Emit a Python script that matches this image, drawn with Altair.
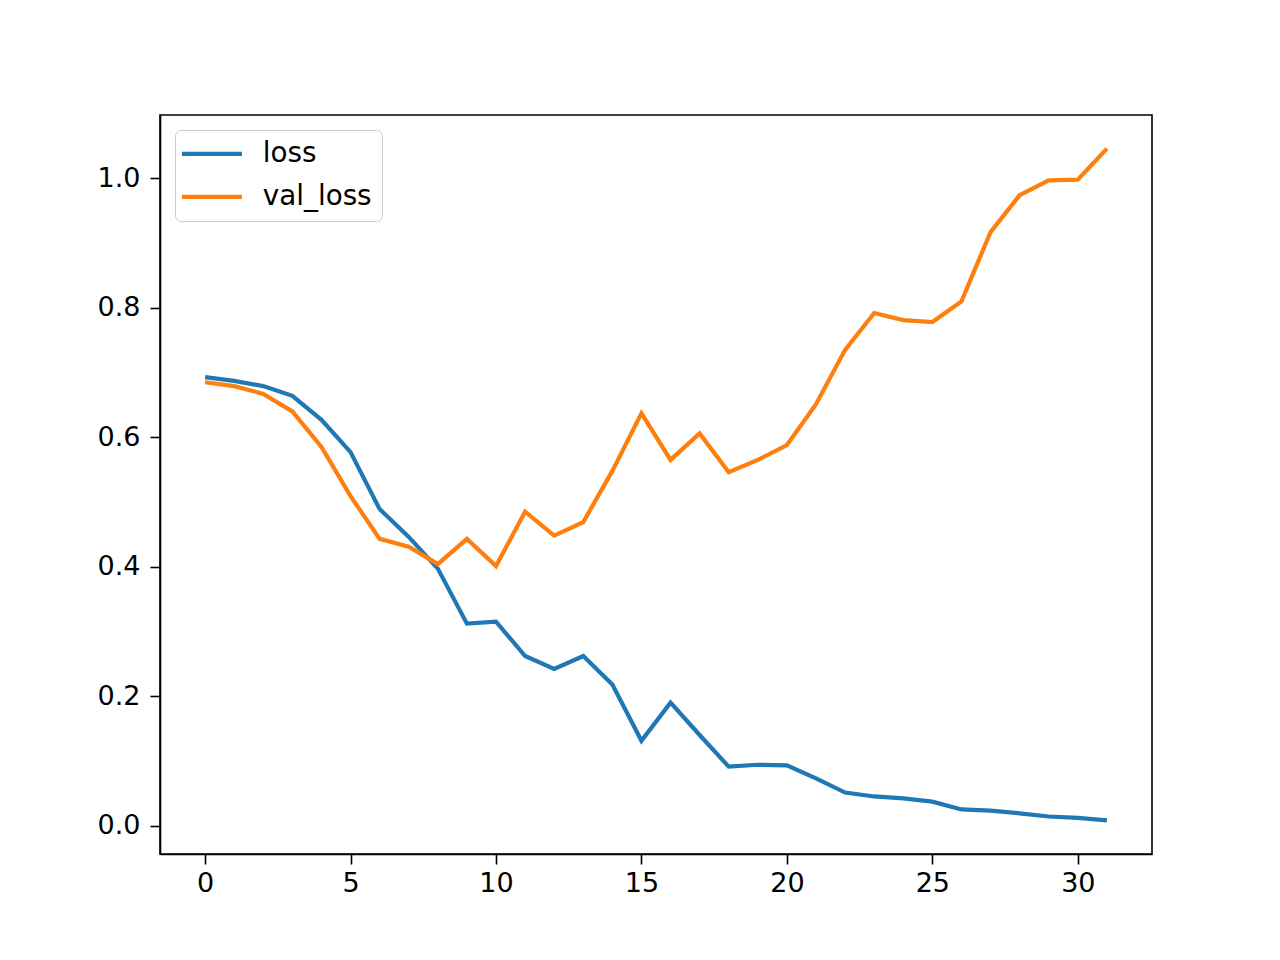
import altair as alt
import pandas as pd

epochs = list(range(32))
loss = [0.693, 0.687, 0.679, 0.664, 0.627, 0.577, 0.489, 0.446, 0.397, 0.312,
        0.315, 0.262, 0.242, 0.262, 0.218, 0.131, 0.190, 0.140, 0.091, 0.094,
        0.093, 0.073, 0.051, 0.045, 0.042, 0.037, 0.025, 0.023, 0.019, 0.014,
        0.012, 0.008]
val_loss = [0.685, 0.679, 0.667, 0.640, 0.585, 0.509, 0.443, 0.431, 0.404, 0.443,
            0.401, 0.485, 0.448, 0.469, 0.548, 0.637, 0.565, 0.606, 0.546, 0.565,
            0.588, 0.651, 0.735, 0.792, 0.781, 0.778, 0.810, 0.917, 0.974, 0.997,
            0.998, 1.046]
series_names = ["loss", "val_loss"]
series_colors = ["#1f77b4", "#ff7f0e"]
x_ticks = [0, 5, 10, 15, 20, 25, 30]
y_ticks = [0.0, 0.2, 0.4, 0.6, 0.8, 1.0]

df = pd.DataFrame({"epoch": epochs, "loss": loss, "val_loss": val_loss})
long = df.melt(id_vars="epoch", value_vars=series_names, var_name="series", value_name="value")

FONT = "DejaVu Sans"
FS = 27

chart = alt.Chart(long).mark_line(strokeWidth=4.2, clip=True).encode(
    x=alt.X("epoch:Q",
            scale=alt.Scale(domain=[-1.55, 32.55], nice=False, zero=False),
            axis=alt.Axis(values=x_ticks, format="d", title=None, grid=False,
                          domainColor="black", domainWidth=1.6,
                          tickColor="black", tickWidth=1.6, tickSize=10,
                          labelColor="black", labelFont=FONT, labelFontSize=FS,
                          labelPadding=6, labelFlush=False)),
    y=alt.Y("value:Q",
            scale=alt.Scale(domain=[-0.0439, 1.0979], nice=False, zero=False),
            axis=alt.Axis(values=y_ticks, format=".1f", title=None, grid=False,
                          domainColor="black", domainWidth=1.6,
                          tickColor="black", tickWidth=1.6, tickSize=10,
                          labelColor="black", labelFont=FONT, labelFontSize=FS,
                          labelPadding=10, labelFlush=False)),
    color=alt.Color("series:N",
                    scale=alt.Scale(domain=series_names, range=series_colors),
                    legend=alt.Legend(title=None, orient="none", legendX=15, legendY=15,
                                      symbolType="M-3,0H3", symbolSize=400,
                                      symbolStrokeWidth=4.2, symbolOffset=13,
                                      labelFont=FONT, labelFontSize=27.8, labelColor="black",
                                      labelOffset=37,
                                      fillColor="white", strokeColor="#cccccc",
                                      cornerRadius=6, padding=10, rowPadding=14)),
).properties(
    width=992, height=739,
    autosize=alt.AutoSizeParams(type="none"),
    padding={"left": 152, "top": 107, "right": 112, "bottom": 90},
).configure(
    background="white",
    view=alt.ViewConfig(stroke="black", strokeWidth=1.6),
)

chart.save("out.html", embed_options={"renderer": "svg", "actions": False})
